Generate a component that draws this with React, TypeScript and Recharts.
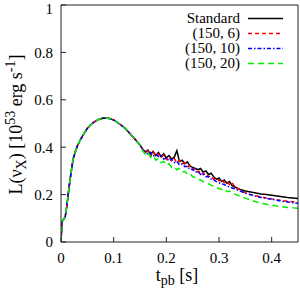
import React from "react";
import { LineChart, Line, XAxis, YAxis, Legend } from "recharts";

// post-bounce time [s]
const riseTimes = [
  0, 0.002, 0.005, 0.008, 0.011, 0.014, 0.017, 0.02, 0.023, 0.027, 0.031,
  0.036, 0.042, 0.05, 0.06, 0.07, 0.08, 0.09, 0.1, 0.11, 0.12, 0.13, 0.14,
  0.15,
];
const tailTimes = [
  0.155, 0.16, 0.165, 0.17, 0.175, 0.18, 0.185, 0.19, 0.195, 0.2, 0.205, 0.21,
  0.215, 0.22, 0.225, 0.23, 0.235, 0.24, 0.245, 0.25, 0.255, 0.26, 0.265, 0.27,
  0.275, 0.28, 0.285, 0.29, 0.295, 0.3, 0.305, 0.31, 0.315, 0.32, 0.325, 0.33,
  0.34, 0.35, 0.36, 0.37, 0.38, 0.39, 0.4, 0.41, 0.42, 0.43, 0.44, 0.45,
];

// all models overlap during the first ~150 ms
const riseLum = [
  0, 0.086, 0.095, 0.107, 0.15, 0.207, 0.26, 0.305, 0.35, 0.38, 0.405, 0.428,
  0.452, 0.48, 0.502, 0.516, 0.523, 0.522, 0.515, 0.5, 0.483, 0.46, 0.435,
  0.41,
];

const standardTail = [
  0.392, 0.38, 0.388, 0.37, 0.382, 0.365, 0.378, 0.36, 0.372, 0.355, 0.365,
  0.35, 0.358, 0.385, 0.34, 0.345, 0.33, 0.338, 0.32, 0.315, 0.31, 0.305, 0.31,
  0.295, 0.3, 0.285, 0.29, 0.275, 0.265, 0.27, 0.255, 0.262, 0.248, 0.255,
  0.238, 0.232, 0.222, 0.215, 0.211, 0.207, 0.203, 0.2, 0.197, 0.194, 0.191,
  0.188, 0.186, 0.184,
];
const run6Tail = [
  0.39, 0.375, 0.385, 0.36, 0.38, 0.362, 0.372, 0.355, 0.368, 0.348, 0.36,
  0.342, 0.352, 0.335, 0.345, 0.328, 0.335, 0.318, 0.322, 0.305, 0.31, 0.295,
  0.3, 0.285, 0.29, 0.275, 0.28, 0.265, 0.27, 0.258, 0.265, 0.25, 0.258, 0.242,
  0.25, 0.232, 0.22, 0.208, 0.2, 0.195, 0.19, 0.186, 0.182, 0.178, 0.175,
  0.172, 0.17, 0.167,
];
const run10Tail = [
  0.388, 0.38, 0.37, 0.378, 0.362, 0.37, 0.36, 0.365, 0.35, 0.356, 0.342, 0.35,
  0.335, 0.34, 0.325, 0.33, 0.318, 0.32, 0.305, 0.308, 0.295, 0.298, 0.285,
  0.288, 0.275, 0.276, 0.265, 0.262, 0.255, 0.25, 0.245, 0.242, 0.236, 0.232,
  0.228, 0.224, 0.215, 0.206, 0.199, 0.193, 0.188, 0.184, 0.18, 0.176, 0.172,
  0.169, 0.166, 0.163,
];
const run20Tail = [
  0.385, 0.37, 0.378, 0.358, 0.365, 0.345, 0.352, 0.335, 0.34, 0.325, 0.33,
  0.315, 0.318, 0.305, 0.31, 0.295, 0.298, 0.285, 0.288, 0.275, 0.272, 0.265,
  0.262, 0.255, 0.25, 0.245, 0.24, 0.235, 0.23, 0.226, 0.222, 0.225, 0.212,
  0.215, 0.205, 0.202, 0.193, 0.185, 0.177, 0.17, 0.164, 0.159, 0.155, 0.152,
  0.149, 0.146, 0.144, 0.142,
];

const seriesNames = ["Standard", "(150, 6)", "(150, 10)", "(150, 20)"];
const xTicks = [0, 0.1, 0.2, 0.3, 0.4];
const yTicks = [0, 0.2, 0.4, 0.6, 0.8, 1];

const times = [...riseTimes, ...tailTimes];
const seriesValues = [
  [...riseLum, ...standardTail],
  [...riseLum, ...run6Tail],
  [...riseLum, ...run10Tail],
  [...riseLum, ...run20Tail],
];

const data = times.map((t, i) => {
  const row: Record<string, number> = { t };
  seriesNames.forEach((name, k) => {
    row[name] = seriesValues[k][i];
  });
  return row;
});

const styles = [
  { color: "#000000", dash: undefined },
  { color: "#ff0000", dash: "4 3" },
  { color: "#0000ff", dash: "4 2 1.5 2" },
  { color: "#00ee00", dash: "6 4" },
];

const FONT = "'Liberation Serif', 'Times New Roman', serif";
const FRAME = "#222";

function LegendBox() {
  return (
    <div style={{ fontFamily: FONT, fontSize: 15, color: "#000" }}>
      {seriesNames.map((name, i) => (
        <div
          key={name}
          style={{
            display: "flex",
            justifyContent: "flex-end",
            alignItems: "center",
            height: 15,
            lineHeight: "15px",
          }}
        >
          <span style={{ whiteSpace: "nowrap" }}>{name}</span>
          <svg width={35} height={15} style={{ marginLeft: 8 }}>
            <line
              x1={0}
              x2={35}
              y1={7.5}
              y2={7.5}
              stroke={styles[i].color}
              strokeWidth={1.5}
              strokeDasharray={styles[i].dash}
            />
          </svg>
        </div>
      ))}
    </div>
  );
}

export default function App() {
  return (
    <div
      style={{
        position: "absolute",
        left: 0,
        top: 0,
        width: 300,
        height: 290,
        background: "#fff",
      }}
    >
      <LineChart
        width={300}
        height={290}
        data={data}
        margin={{ top: 4, right: 1, left: 0, bottom: 0 }}
      >
        <XAxis
          dataKey="t"
          type="number"
          domain={[0, 0.45]}
          ticks={xTicks}
          allowDataOverflow
          height={48}
          tickSize={-5}
          tickMargin={15}
          stroke={FRAME}
          tick={{ fill: "#000", fontSize: 15, fontFamily: FONT }}
          tickFormatter={(v) => String(v)}
        />
        <XAxis
          xAxisId="top"
          orientation="top"
          dataKey="t"
          type="number"
          domain={[0, 0.45]}
          ticks={xTicks}
          allowDataOverflow
          height={1}
          tickSize={-5}
          tick={false}
          stroke={FRAME}
        />
        <YAxis
          type="number"
          domain={[0, 1]}
          ticks={yTicks}
          allowDataOverflow
          width={61}
          tickSize={-5}
          tickMargin={13}
          stroke={FRAME}
          tick={{ fill: "#000", fontSize: 15, fontFamily: FONT }}
          tickFormatter={(v) => String(v)}
        />
        <YAxis
          yAxisId="right"
          orientation="right"
          type="number"
          domain={[0, 1]}
          ticks={yTicks}
          allowDataOverflow
          width={1}
          tickSize={-5}
          tick={false}
          stroke={FRAME}
        />
        <Legend
          layout="vertical"
          align="center"
          verticalAlign="middle"
          wrapperStyle={{ top: 11, left: 150, width: 133 }}
          content={() => <LegendBox />}
        />
        {seriesNames.map((name, i) => (
          <Line
            key={name}
            dataKey={name}
            type="linear"
            stroke={styles[i].color}
            strokeWidth={1.5}
            strokeDasharray={styles[i].dash}
            dot={false}
            isAnimationActive={false}
          />
        ))}
        {/* invisible series so the mirror axes get a domain */}
        <Line
          xAxisId="top"
          yAxisId="right"
          dataKey={seriesNames[0]}
          stroke="none"
          dot={false}
          legendType="none"
          isAnimationActive={false}
        />
      </LineChart>
      <svg
        width={300}
        height={290}
        style={{ position: "absolute", left: 0, top: 0, pointerEvents: "none" }}
        fontFamily={FONT}
        fill="#000"
      >
        <text
          transform="translate(21.5,124.5) rotate(-90)"
          textAnchor="middle"
          fontSize={18}
        >
          L(ν
          <tspan fontSize={14} dy={4}>
            X
          </tspan>
          <tspan dy={-4}>) [10</tspan>
          <tspan fontSize={14} dy={-7}>
            53
          </tspan>
          <tspan dy={7}> erg s</tspan>
          <tspan fontSize={14} dy={-7}>
            -1
          </tspan>
          <tspan dy={7}>]</tspan>
        </text>
        <text x={177} y={281} textAnchor="middle" fontSize={18}>
          t
          <tspan fontSize={14} dy={4}>
            pb
          </tspan>
          <tspan dy={-4}> [s]</tspan>
        </text>
      </svg>
    </div>
  );
}
